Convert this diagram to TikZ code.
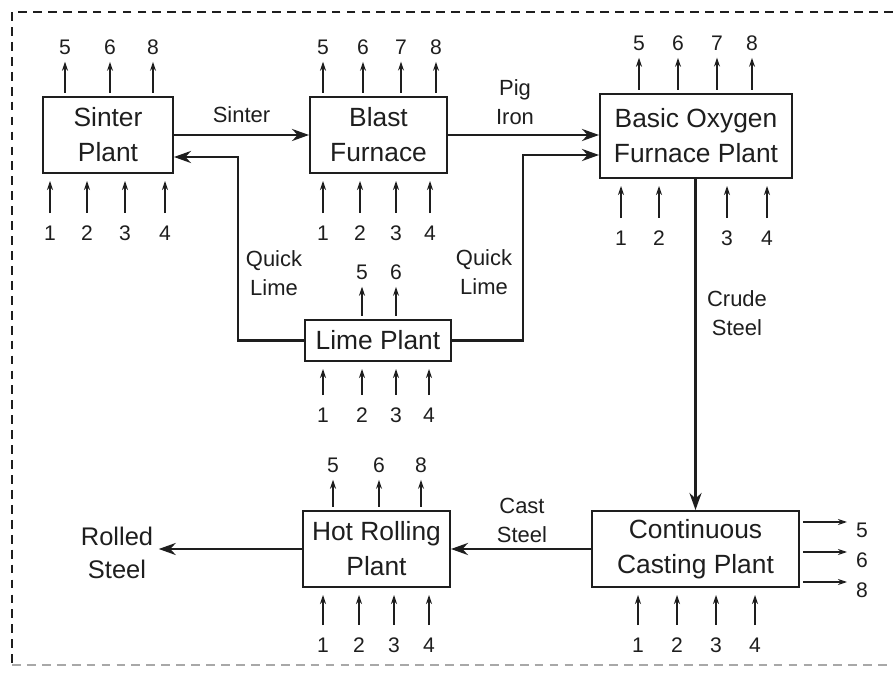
\documentclass[tikz,border=0pt]{standalone}
\usepackage{fontspec}
\setmainfont{Liberation Sans}
\usepackage{tikz}
\usetikzlibrary{arrows.meta,positioning,calc}
\definecolor{inkdark}{HTML}{1E1E1E}
\definecolor{framegray}{HTML}{A8A8A8}
\tikzset{
  >={Stealth[length=3.4mm,width=2.4mm]},
  % boxes
  plant/.style={draw=inkdark,line width=1.1pt,fill=white,align=center,inner sep=0pt,
                text=inkdark,font=\fontsize{15}{20}\selectfont},
  lbl/.style={align=center,inner sep=2pt,text=inkdark,font=\fontsize{12.5}{16.5}\selectfont},
  num/.style={inner sep=1pt,text=inkdark,font=\fontsize{12}{14}\selectfont},
  % arrows
  flow/.style={->,draw=inkdark,line width=1.7pt},
  io/.style={-{Stealth[length=1.8mm,width=1.2mm]},draw=inkdark,line width=0.8pt},
  ioin/.style={io,shorten <=6pt,shorten >=4pt},
  ioout/.style={io,shorten <=2pt,shorten >=3pt},
  frame/.style={draw=inkdark,line width=0.9pt,dash pattern=on 5pt off 3.5pt},
}
\begin{document}
\begin{tikzpicture}[x=0.02cm,y=-0.02cm]
\useasboundingbox (0,0) rectangle (893,675);
  \draw[frame] (893,12) -- (12,12) -- (12,665);
  \draw[frame,draw=framegray] (12,665) -- (893,665);
  % plants
  \node[plant,minimum width=2.6cm,minimum height=1.52cm] (sp) at (108,135) {Sinter\\Plant};
  \node[plant,minimum width=2.74cm,minimum height=1.52cm] (bf) at (378.5,135) {Blast\\Furnace};
  \node[plant,minimum width=3.84cm,minimum height=1.68cm] (bof) at (696,136) {Basic Oxygen\\Furnace Plant};
  \node[plant,minimum width=2.92cm,minimum height=0.82cm] (lp) at (378,340.5) {Lime Plant};
  \node[plant,minimum width=2.94cm,minimum height=1.52cm] (hr) at (376.5,549) {Hot Rolling\\Plant};
  \node[plant,minimum width=4.14cm,minimum height=1.52cm] (cc) at (695.5,549) {Continuous\\Casting Plant};
  % main flows
  \draw[flow] (sp) -- node[lbl,above=4pt] (l-sinter) {Sinter} (bf);
  \draw[flow] (bf.east) -- (bof.west |- bf);
  \node[lbl] (l-pig) at (515,102) {Pig\\Iron};
  \coordinate (ql-l) at (238,157);
  \coordinate (ql-r) at (523,155);
  \draw[flow] (lp.west) -| (ql-l) -- (sp.east |- ql-l);
  \draw[flow] (lp.east) -| (ql-r) -- (bof.west |- ql-r);
  \node[lbl] (l-qll) at (274,273) {Quick\\Lime};
  \node[lbl] (l-qlr) at (484,272) {Quick\\Lime};
  \draw[flow] (bof.south -| cc.north) -- (cc.north);
  \node[lbl] (l-crude) at (737,313) {Crude\\Steel};
  \draw[flow] (cc.west) -- (hr.east);
  \node[lbl] (l-cast) at (522,520) {Cast\\Steel};
  \node[align=center,inner sep=3pt,text=inkdark,font=\fontsize{14.5}{19}\selectfont] (rs) at (117,553) {Rolled\\Steel};
  \draw[flow] (hr.west) -- (hr.west -| rs.east);
  % sinter plant
  \foreach \x/\n in {65/5,110/6,153/8}{
    \node[num] (sp-o\n) at (\x,47) {\n};
    \draw[ioout] (sp.north -| sp-o\n) -- (sp-o\n);
  }
  \foreach \x/\n in {50/1,87/2,125/3,165/4}{
    \node[num] (sp-i\n) at (\x,233) {\n};
    \draw[ioin] (sp-i\n) -- (sp.south -| sp-i\n);
  }
  % blast furnace
  \foreach \x/\n in {323/5,363/6,401/7,436/8}{
    \node[num] (bf-o\n) at (\x,47) {\n};
    \draw[ioout] (bf.north -| bf-o\n) -- (bf-o\n);
  }
  \foreach \x/\n in {323/1,360/2,396/3,430/4}{
    \node[num] (bf-i\n) at (\x,233) {\n};
    \draw[ioin] (bf-i\n) -- (bf.south -| bf-i\n);
  }
  % basic oxygen furnace
  \foreach \x/\n in {639/5,678/6,717/7,752/8}{
    \node[num] (bof-o\n) at (\x,43) {\n};
    \draw[ioout] (bof.north -| bof-o\n) -- (bof-o\n);
  }
  \foreach \x/\n in {621/1,659/2,727/3,767/4}{
    \node[num] (bof-i\n) at (\x,238) {\n};
    \draw[ioin] (bof-i\n) -- (bof.south -| bof-i\n);
  }
  % lime plant
  \foreach \x/\n in {362/5,396/6}{
    \node[num] (lp-o\n) at (\x,272) {\n};
    \draw[ioout] (lp.north -| lp-o\n) -- (lp-o\n);
  }
  \foreach \x/\n in {323/1,362/2,396/3,429/4}{
    \node[num] (lp-i\n) at (\x,415) {\n};
    \draw[ioin] (lp-i\n) -- (lp.south -| lp-i\n);
  }
  % hot rolling
  \foreach \x/\n in {333/5,379/6,421/8}{
    \node[num] (hr-o\n) at (\x,465) {\n};
    \draw[ioout] (hr.north -| hr-o\n) -- (hr-o\n);
  }
  \foreach \x/\n in {323/1,359/2,394/3,429/4}{
    \node[num] (hr-i\n) at (\x,645) {\n};
    \draw[ioin] (hr-i\n) -- (hr.south -| hr-i\n);
  }
  % continuous casting
  \foreach \x/\n in {638/1,677/2,716/3,755/4}{
    \node[num] (cc-i\n) at (\x,645) {\n};
    \draw[ioin] (cc-i\n) -- (cc.south -| cc-i\n);
  }
  \foreach \y/\n in {522/5,552/6,582/8}{
    \coordinate (cc-e\n) at (847,\y);
    \node[num] (cc-o\n) at ($(cc-e\n)+(15,8)$) {\n};
    \draw[io,shorten <=2pt] (cc.east |- cc-e\n) -- (cc-e\n);
  }
\end{tikzpicture}
\end{document}
